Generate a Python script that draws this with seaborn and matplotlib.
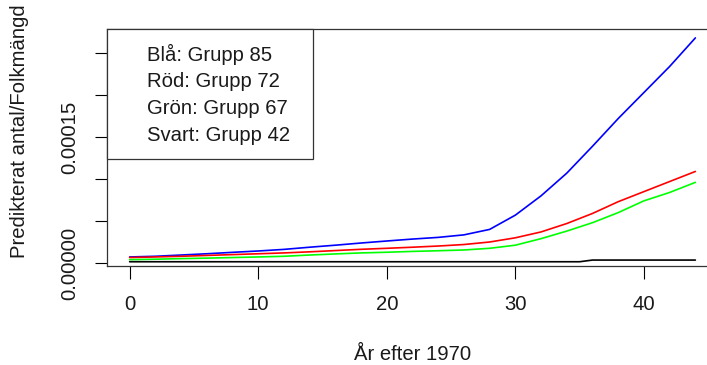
import numpy as np
import pandas as pd
import matplotlib
matplotlib.use("Agg")
import matplotlib.pyplot as plt
from matplotlib.lines import Line2D
import seaborn as sns

# === data (values in units of 1e-5) ===
years = [0, 2, 4, 6, 8, 10, 12, 14, 16, 18, 20, 22,
         24, 26, 28, 30, 32, 34, 36, 38, 40, 42, 44]
blue_85 = [0.72, 0.8, 0.95, 1.1, 1.27, 1.43, 1.62, 1.88, 2.12, 2.38, 2.62, 2.85,
           3.05, 3.35, 4.0, 5.7, 8.0, 10.7, 13.9, 17.2, 20.3, 23.4, 26.8]
red_72 = [0.65, 0.72, 0.8, 0.9, 1.0, 1.1, 1.2, 1.33, 1.48, 1.63, 1.75, 1.88,
          2.02, 2.2, 2.5, 3.0, 3.7, 4.7, 5.9, 7.3, 8.5, 9.7, 10.9]
green_67 = [0.4, 0.45, 0.52, 0.58, 0.65, 0.72, 0.8, 0.95, 1.08, 1.2, 1.28, 1.38,
            1.46, 1.55, 1.75, 2.12, 2.9, 3.8, 4.8, 6.0, 7.4, 8.4, 9.6]
black_years = [0, 10, 20, 30, 35, 36, 40, 44]
black_42 = [0.15, 0.15, 0.15, 0.15, 0.15, 0.35, 0.35, 0.35]

legend_labels = ["Blå: Grupp 85", "Röd: Grupp 72", "Grön: Grupp 67", "Svart: Grupp 42"]
ytick_vals = [0, 5e-5, 1e-4, 1.5e-4, 2e-4, 2.5e-4]
ytick_labels = ["0.00000", "", "", "0.00015", "", ""]
xtick_vals = [0, 10, 20, 30, 40]

df = pd.concat([
    pd.DataFrame({"year": years, "value": np.array(blue_85) * 1e-5, "group": "85"}),
    pd.DataFrame({"year": years, "value": np.array(red_72) * 1e-5, "group": "72"}),
    pd.DataFrame({"year": years, "value": np.array(green_67) * 1e-5, "group": "67"}),
    pd.DataFrame({"year": black_years, "value": np.array(black_42) * 1e-5, "group": "42"}),
])
palette = {"85": "#0000FF", "72": "#FF0000", "67": "#00FF00", "42": "#000000"}

# === style ===
sns.set_theme(style="white")
plt.rcParams['font.family'] = ['Liberation Sans', 'DejaVu Sans']
fs = 14.6

fig = plt.figure(figsize=(7.07, 3.65), dpi=100)
ax = fig.add_axes([107/707, 99/365, 611/707, 237/365])

sns.lineplot(data=df, x="year", y="value", hue="group", palette=palette,
             hue_order=["85", "72", "67", "42"], legend=False, lw=1.2, ax=ax)

ax.set_xlim(-1.76, 45.76)
ax.set_ylim(-3.57e-6, 2.786e-4)

ax.set_xticks(xtick_vals)
ax.set_xticklabels([str(v) for v in xtick_vals])
ax.set_yticks(ytick_vals)
ax.set_yticklabels(ytick_labels, rotation=90, va="center")

ax.tick_params(direction="out", length=9, width=0.8, color="black",
               labelsize=fs, labelcolor="#1a1a1a", pad=12,
               bottom=True, left=True)
ax.tick_params(axis="y", pad=11)
for s in ax.spines.values():
    s.set_color("#333333")
    s.set_linewidth(0.9)

ax.set_xlabel("År efter 1970", fontsize=fs, color="#1a1a1a")
ax.set_ylabel("Predikterat antal/Folkmängd", fontsize=fs, color="#1a1a1a")
ax.xaxis.set_label_coords(0.5, -(345 - 266) / 237)
ax.yaxis.set_label_coords((29 - 107) / 611, (266 - 131) / 237)

# === legend (text only, like R) ===
handles = [Line2D([], [], color="none") for _ in legend_labels]
leg_w = 206 / 611
leg = ax.legend(handles, legend_labels, loc="upper left",
                bbox_to_anchor=(0, 0, leg_w, 1), mode="expand",
                borderaxespad=0, frameon=True, fancybox=False, framealpha=1,
                edgecolor="#333333", fontsize=fs, handlelength=1.1,
                handletextpad=0.15, borderpad=0.72, labelspacing=0.38)
leg.get_frame().set_linewidth(0.9)
for t in leg.get_texts():
    t.set_color("#1a1a1a")

fig.savefig("out.png", dpi=100)
